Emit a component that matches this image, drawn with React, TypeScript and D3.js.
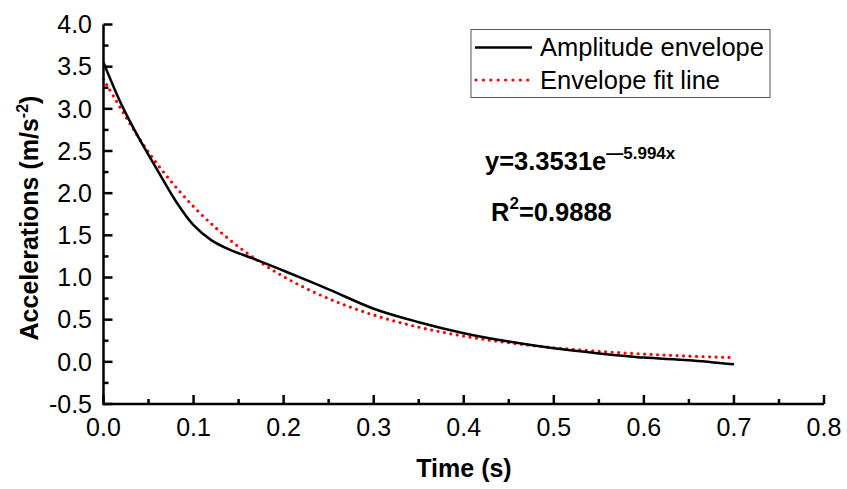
import React from "react";
import * as d3 from "d3";

const envTime = [0, 0.02, 0.04, 0.06, 0.08, 0.1, 0.12, 0.14, 0.17, 0.2, 0.25, 0.3, 0.35, 0.4, 0.45, 0.5, 0.55, 0.6, 0.65, 0.7];
const envValue = [3.55, 3.05, 2.64, 2.27, 1.91, 1.62, 1.44, 1.33, 1.21, 1.08, 0.86, 0.63, 0.47, 0.34, 0.24, 0.16, 0.1, 0.05, 0.02, -0.03];

const fitTime = [0, 0.05, 0.1, 0.15, 0.2, 0.25, 0.3, 0.35, 0.4, 0.45, 0.5, 0.55, 0.6, 0.65, 0.7];
const fitValue = [3.353, 2.485, 1.841, 1.364, 1.011, 0.749, 0.555, 0.411, 0.305, 0.226, 0.167, 0.124, 0.092, 0.068, 0.05];

const xTicks = [0, 0.1, 0.2, 0.3, 0.4, 0.5, 0.6, 0.7, 0.8];
const xMinor = [0.05, 0.15, 0.25, 0.35, 0.45, 0.55, 0.65, 0.75];
const yTicks = [-0.5, 0, 0.5, 1, 1.5, 2, 2.5, 3, 3.5, 4];
const yMinor = [-0.25, 0.25, 0.75, 1.25, 1.75, 2.25, 2.75, 3.25, 3.75];

const seriesNames = ["Amplitude envelope", "Envelope fit line"];

export default function App() {
  const W = 847, H = 489;
  const x = d3.scaleLinear().domain([0, 0.8]).range([103.5, 824]);
  const y = d3.scaleLinear().domain([-0.5, 4]).range([404, 24.5]);
  const font = "Arial, 'Liberation Sans', sans-serif";
  const fs = 25;

  const line = d3.line<[number, number]>().x(d => x(d[0])).y(d => y(d[1])).curve(d3.curveCatmullRom.alpha(0.5));
  const envPath = line(envTime.map((t, i) => [t, envValue[i]]))!;
  const fitPath = line(fitTime.map((t, i) => [t, fitValue[i]]))!;

  const x0 = x(0), y0 = y(-0.5);

  return (
    <svg width={W} height={H} style={{ position: "absolute", left: 0, top: 0, background: "#fff" }} fontFamily={font}>
      <rect width={W} height={H} fill="#fff" />
      {/* data */}
      <path d={fitPath} fill="none" stroke="#ff0000" strokeWidth={3.2} strokeDasharray="0 6.5" strokeLinecap="round" />
      <path d={envPath} fill="none" stroke="#000" strokeWidth={2.5} />
      {/* axes */}
      <line x1={x0} x2={x(0.8)} y1={y0} y2={y0} stroke="#000" strokeWidth={2.5} />
      <line x1={x0} x2={x0} y1={y0 + 1.25} y2={y(4)} stroke="#000" strokeWidth={2.5} />
      {xTicks.map(t => (
        <g key={"xt" + t}>
          <line x1={x(t)} x2={x(t)} y1={y0} y2={y0 - 9} stroke="#000" strokeWidth={2.5} />
          <text x={x(t)} y={436} textAnchor="middle" fontSize={fs} fill="#000">{t.toFixed(1)}</text>
        </g>
      ))}
      {xMinor.map(t => (
        <line key={"xm" + t} x1={x(t)} x2={x(t)} y1={y0} y2={y0 - 5} stroke="#000" strokeWidth={2.5} />
      ))}
      {yTicks.map(v => (
        <g key={"yt" + v}>
          <line x1={x0} x2={x0 + 9} y1={y(v)} y2={y(v)} stroke="#000" strokeWidth={2.5} />
          <text x={92} y={y(v)} dy="0.35em" textAnchor="end" fontSize={fs} fill="#000">{v.toFixed(1)}</text>
        </g>
      ))}
      {yMinor.map(v => (
        <line key={"ym" + v} x1={x0} x2={x0 + 5} y1={y(v)} y2={y(v)} stroke="#000" strokeWidth={2.5} />
      ))}
      {/* axis titles */}
      <text x={464} y={477} textAnchor="middle" fontSize={fs} fontWeight="bold" fill="#000">Time (s)</text>
      <text transform="translate(38,218) rotate(-90)" textAnchor="middle" fontSize={fs} fontWeight="bold" fill="#000">
        Accelerations (m/s<tspan dy={-10} fontSize={16}>-2</tspan><tspan dy={10}>)</tspan>
      </text>
      {/* legend */}
      <rect x={471} y={29.5} width={299} height={68} fill="#fff" stroke="#555" strokeWidth={1} />
      <line x1={475} x2={532} y1={47.5} y2={47.5} stroke="#000" strokeWidth={2.5} />
      <text x={540} y={56} fontSize={25.5} fill="#000">{seriesNames[0]}</text>
      <line x1={476} x2={532} y1={80} y2={80} stroke="#ff0000" strokeWidth={3.2} strokeDasharray="0 7.4" strokeLinecap="round" />
      <text x={540} y={88.5} fontSize={25.5} fill="#000">{seriesNames[1]}</text>
      {/* equation */}
      <text x={485} y={170} fontSize={25.5} fontWeight="bold" fill="#000">
        y=3.3531e<tspan dy={-11} fontSize={17}>{"\u2014"}5.994x</tspan>
      </text>
      <text x={491} y={221} fontSize={25.5} fontWeight="bold" fill="#000">
        R<tspan dy={-12} fontSize={17}>2</tspan><tspan dy={12}>=0.9888</tspan>
      </text>
    </svg>
  );
}
